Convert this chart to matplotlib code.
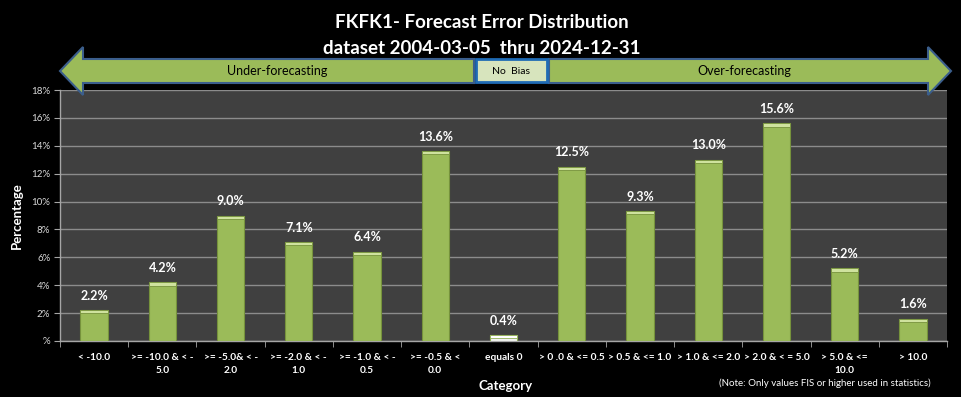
import matplotlib
matplotlib.use('Agg')
import matplotlib.pyplot as plt
from matplotlib.patches import Polygon, Rectangle
from matplotlib.ticker import FixedLocator, FuncFormatter

plt.rcParams['font.family'] = ['Lato', 'DejaVu Sans']

categories = ['< -10.0', '>= -10.0 & < -\n5.0', '>= -5.0& < -\n2.0', '>= -2.0 & < -\n1.0',
              '>= -1.0 & < -\n0.5', '>= -0.5 & <\n0.0', 'equals 0', '> 0 .0 & <= 0.5',
              '> 0.5 & <= 1.0', '> 1.0 & <= 2.0', '> 2.0 & < = 5.0', '> 5.0 & <=\n10.0', '> 10.0']
pct = [2.2, 4.2, 9.0, 7.1, 6.4, 13.6, 0.4, 12.5, 9.3, 13.0, 15.6, 5.2, 1.6]
yticks = [0, 2, 4, 6, 8, 10, 12, 14, 16, 18]

W, H = 961, 397
fig = plt.figure(figsize=(W / 100, H / 100), dpi=100, facecolor='black')


def fx(px):
    return px / W


def fy(py):
    return 1 - py / H


ax = fig.add_axes([fx(60), fy(341), fx(947) - fx(60), fy(90) - fy(341)])
ax.set_facecolor('#404040')

x = list(range(len(categories)))
green = '#9BBB59'
face = ['#F2F2F2' if c == 'equals 0' else green for c in categories]
cap_col = ['#FFFFFF' if c == 'equals 0' else '#CFE29E' for c in categories]
edge = ['#8FAE52' if c == 'equals 0' else '#76923C' for c in categories]

ax.bar(x, pct, width=0.4, color=face, edgecolor=edge, linewidth=0.8, zorder=3)
cap = 0.22
ax.bar(x, [cap] * len(pct), bottom=[v - cap for v in pct], width=0.4,
       color=cap_col, edgecolor=edge, linewidth=0.6, zorder=4)

for xi, v in zip(x, pct):
    ax.annotate(f'{v:.1f}%', (xi, v), xytext=(0, 6), textcoords='offset points',
                ha='center', va='bottom', color='white', fontsize=9, fontweight='bold')

ax.set_xlim(-0.5, len(categories) - 0.5)
ax.set_ylim(0, 18)
ax.set_yticks(yticks)
ax.yaxis.set_major_formatter(FuncFormatter(lambda v, p: f'{int(v)}%' if v else '%'))
ax.grid(axis='y', color='#8C8C8C', linewidth=1, zorder=0)
ax.set_axisbelow(True)

ax.set_xticks(x)
ax.set_xticklabels(categories, color='white', fontsize=7.3, fontweight='bold', linespacing=1.55)
ax.xaxis.set_minor_locator(FixedLocator([i - 0.5 for i in range(len(categories) + 1)]))
ax.tick_params(axis='x', which='major', length=0, pad=9)
ax.tick_params(axis='x', which='minor', length=4, color='#A6A6A6', direction='out')
ax.tick_params(axis='y', length=4, color='#A6A6A6', labelcolor='#D9D9D9', labelsize=7, pad=3)

for s in ['top', 'right']:
    ax.spines[s].set_visible(False)
for s in ['left', 'bottom']:
    ax.spines[s].set_color('#A6A6A6')
    ax.spines[s].set_linewidth(1)

ax.set_ylabel('Percentage', color='white', fontsize=9.5, fontweight='bold', labelpad=6)

fig.text(fx(506), fy(386), 'Category', color='white', fontsize=9.5, fontweight='bold',
         ha='center', va='center')
fig.text(fx(825), fy(383), '(Note: Only values FIS or higher used in statistics)',
         color='white', fontsize=7, ha='center', va='center')

# title
fig.text(fx(482), fy(23), 'FKFK1- Forecast Error Distribution', color='white',
         fontsize=13.5, fontweight='bold', ha='center', va='center')
fig.text(fx(482), fy(48), 'dataset 2004-03-05  thru 2024-12-31', color='white',
         fontsize=13.5, fontweight='bold', ha='center', va='center')

# bias arrows
outline = '#3B5E8C'
left_arrow = [(60, 71), (83, 47), (83, 59), (474, 59), (474, 83), (83, 83), (83, 95)]
right_arrow = [(951, 71), (928, 47), (928, 59), (549, 59), (549, 83), (928, 83), (928, 95)]
for pts in (left_arrow, right_arrow):
    fig.patches.append(Polygon([(fx(a), fy(b)) for a, b in pts], closed=True,
                               transform=fig.transFigure, facecolor=green,
                               edgecolor=outline, linewidth=1.5, zorder=5))
fig.patches.append(Rectangle((fx(476), fy(82)), fx(547) - fx(476), fy(59) - fy(82),
                             transform=fig.transFigure, facecolor='#D7E4BD',
                             edgecolor='#1F6BB5', linewidth=2, zorder=6))
fig.text(fx(277), fy(71), 'Under-forecasting', color='black', fontsize=9,
         ha='center', va='center', zorder=7)
fig.text(fx(744), fy(71), 'Over-forecasting', color='black', fontsize=9,
         ha='center', va='center', zorder=7)
fig.text(fx(511), fy(71), 'No  Bias', color='black', fontsize=7.5,
         ha='center', va='center', zorder=7)

fig.savefig('out.png', dpi=100, facecolor='black')
